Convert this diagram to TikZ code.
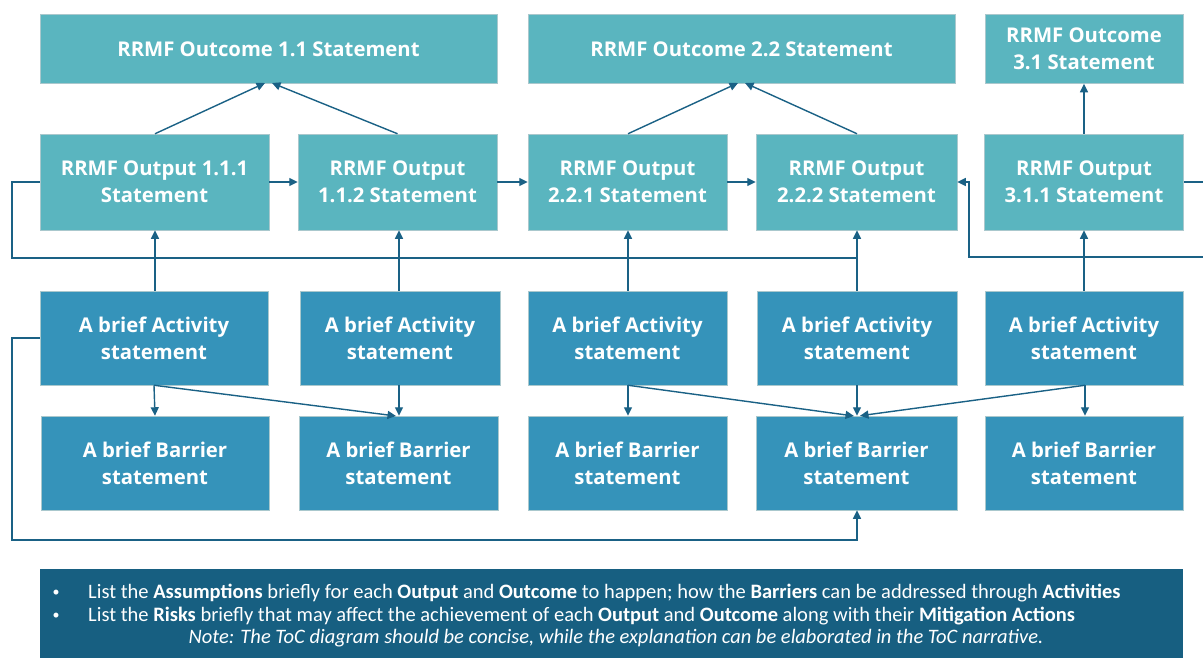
\documentclass[tikz,border=0pt]{standalone}
\usepackage{fontspec}
\setmainfont{Open Sans}
\newfontfamily\notefont{Carlito}
\usetikzlibrary{arrows.meta}
\definecolor{outc}{RGB}{90,181,191}
\definecolor{actc}{RGB}{53,147,186}
\definecolor{linec}{RGB}{26,97,133}
\definecolor{notec}{RGB}{23,95,129}
\definecolor{edgec}{RGB}{170,200,205}
\tikzset{
  boxbase/.style={rectangle, inner sep=0pt, text=white, align=center,
    font=\fontsize{20.3}{27}\selectfont\bfseries, draw=edgec, line width=0.5pt},
  obox/.style={boxbase, fill=outc},
  abox/.style={boxbase, fill=actc},
  conn/.style={draw=linec, line width=1.4pt, -{Triangle[length=8.5pt,width=8pt]}},
  plain/.style={draw=linec, line width=1.4pt},
  notetext/.style={text=white, font=\notefont\fontsize{20.5}{23}\selectfont, inner sep=0pt},
  bullettext/.style={text=white, font=\notefont\fontsize{14}{16}\selectfont, inner sep=0pt},
}
\begin{document}
\begin{tikzpicture}[x=1pt,y=-1pt]
\useasboundingbox (0,0) rectangle (1203,657);
% Outcomes
\node[obox, minimum width=457pt, minimum height=69pt] (o11) at (268.5,49) {RRMF Outcome 1.1 Statement};
\node[obox, minimum width=427pt, minimum height=69pt] (o22) at (741.5,49) {RRMF Outcome 2.2 Statement};
\node[obox, minimum width=198pt, minimum height=69pt] (o31) at (1084,49) {RRMF Outcome\\3.1 Statement};
% Outputs
\node[obox, minimum width=229pt, minimum height=96pt] (p111) at (154.5,182) {RRMF Output 1.1.1\\Statement};
\node[obox, minimum width=199pt, minimum height=96pt] (p112) at (397.5,182) {RRMF Output\\1.1.2 Statement};
\node[obox, minimum width=199pt, minimum height=96pt] (p221) at (627.5,182) {RRMF Output\\2.2.1 Statement};
\node[obox, minimum width=201pt, minimum height=96pt] (p222) at (856.5,182) {RRMF Output\\2.2.2 Statement};
\node[obox, minimum width=199pt, minimum height=96pt] (p311) at (1084,182) {RRMF Output\\3.1.1 Statement};
% Activities
\node[abox, minimum width=228pt, minimum height=94pt] (a1) at (154,338) {A brief Activity\\statement};
\node[abox, minimum width=200pt, minimum height=94pt] (a2) at (400,338) {A brief Activity\\statement};
\node[abox, minimum width=199pt, minimum height=94pt] (a3) at (627.5,338) {A brief Activity\\statement};
\node[abox, minimum width=200pt, minimum height=94pt] (a4) at (857,338) {A brief Activity\\statement};
\node[abox, minimum width=198pt, minimum height=94pt] (a5) at (1084,338) {A brief Activity\\statement};
% Barriers
\node[abox, minimum width=228pt, minimum height=94pt] (b1) at (155,463) {A brief Barrier\\statement};
\node[abox, minimum width=199pt, minimum height=94pt] (b2) at (398.5,463) {A brief Barrier\\statement};
\node[abox, minimum width=199pt, minimum height=94pt] (b3) at (627.5,463) {A brief Barrier\\statement};
\node[abox, minimum width=201pt, minimum height=94pt] (b4) at (856.5,463) {A brief Barrier\\statement};
\node[abox, minimum width=198pt, minimum height=94pt] (b5) at (1084,463) {A brief Barrier\\statement};
% Note box
\node[rectangle, fill=notec, inner sep=0pt, minimum width=1143pt, minimum height=92pt, anchor=north west] (note) at (40,569) {};
\node[bullettext] (bu1) at (56,593) {\textbullet};
\node[bullettext] (bu2) at (56,616) {\textbullet};
\node[notetext, anchor=west] (n1) at (88,593)
  {List the \textbf{Assumptions} briefly for each \textbf{Output} and \textbf{Outcome} to happen; how the \textbf{Barriers} can be addressed through \textbf{Activities}};
\node[notetext, anchor=west] (n2) at (88,616)
  {List the \textbf{Risks} briefly that may affect the achievement of each \textbf{Output} and \textbf{Outcome} along with their \textbf{Mitigation Actions}};
\node[notetext, font=\notefont\fontsize{20.5}{23}\selectfont\itshape] (n3) at (616,638)
  {Note: The ToC diagram should be concise, while the explanation can be elaborated in the ToC narrative.};
% Output -> Outcome
\draw[conn] (p111.north -| 155,0) -- (265,83);
\draw[conn] (p112.north) -- (272,83);
\draw[conn] (p221.north -| 628,0) -- (738,83);
\draw[conn] (p222.north -| 857,0) -- (745,83);
\draw[conn] (p311.north) -- (o31.south);
% Output -> Output
\draw[conn] (p111.east) -- (p112.west);
\draw[conn] (p112.east) -- (p221.west);
\draw[conn] (p221.east) -- (p222.west);
% Activity -> Output
\draw[conn] (a1.north -| 155,0) -- (p111.south -| 155,0);
\draw[conn] (a2.north -| 399,0) -- (p112.south -| 399,0);
\draw[conn] (a3.north -| 628,0) -- (p221.south -| 628,0);
\draw[conn] (a4.north -| 857,0) -- (p222.south -| 857,0);
\draw[conn] (a5.north) -- (p311.south -| a5.north);
% loop from output 1.1.1 to output 2.2.2
\coordinate (lj) at (857,258);
\draw[plain] (p111.west) -- (12,182) -- (12,258) -- (lj);
% loop from output 3.1.1 to output 2.2.2
\coordinate (rx) at (1215,182);
\draw[conn] (p311.east) -- (rx) -- (1215,257) -- (969,257) -- (969,182) -- (p222.east);
% Activity -> Barrier
\draw[conn] (a1.south -| 154,0) -- (b1.north -| 155,0);
\draw[conn] (a1.south -| 154,0) -- (396,416);
\draw[conn] (a2.south -| 399,0) -- (b2.north -| 399,0);
\draw[conn] (a3.south -| 628,0) -- (b3.north -| 628,0);
\draw[conn] (a3.south -| 628,0) -- (854,416);
\draw[conn] (a4.south -| 857,0) -- (b4.north -| 857,0);
\draw[conn] (a5.south -| 1085,0) -- (b4.north -| 860,0);
\draw[conn] (a5.south -| 1085,0) -- (b5.north -| 1085,0);
% Activity 1 loop to Barrier 4
\draw[conn] (a1.west |- 0,338) -- (12,338) -- (12,540) -- (857,540) -- (b4.south -| 857,0);
\end{tikzpicture}
\end{document}
